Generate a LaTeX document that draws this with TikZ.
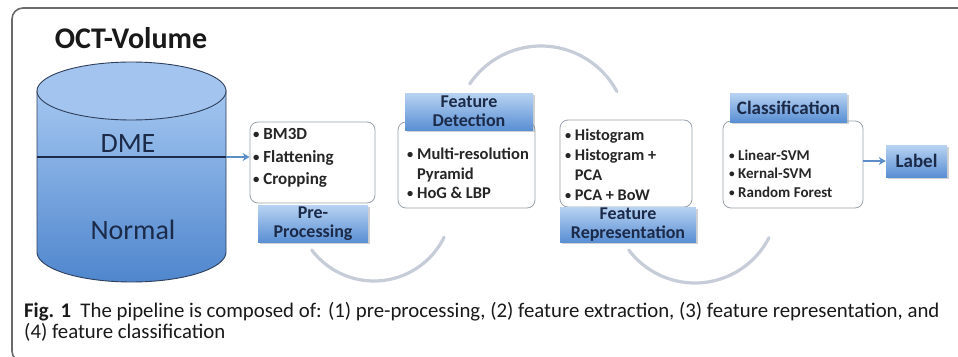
\documentclass[tikz,border=0pt]{standalone}
\usepackage{fontspec}
\setmainfont{Carlito}
\newfontfamily\capfont{Carlito}
\usetikzlibrary{shadows,arrows.meta}
\definecolor{navy}{HTML}{1B2A48}
\definecolor{framegray}{HTML}{6A6A6A}
\definecolor{arcgray}{HTML}{C6CDD8}
\definecolor{boxline}{HTML}{9AA2AC}
\definecolor{arrowblue}{HTML}{5D8EC8}
\definecolor{lblTop}{HTML}{B8D3F2}
\definecolor{lblBot}{HTML}{5A8FD4}
\definecolor{cylTop}{HTML}{A3C6F0}
\definecolor{cylBot}{HTML}{4F86CD}
\definecolor{cylLid}{HTML}{A3C4EE}
\definecolor{cylEdge}{HTML}{2E3F5C}
\newcommand{\mybul}{\raisebox{0.8pt}{\scalebox{0.75}{•}}~}
\newcommand{\mybulgap}{\hphantom{\mybul}}
\begin{document}
\begin{tikzpicture}[x=1pt,y=-1pt,
  whitebox/.style={draw=boxline, line width=0.8pt, fill=white, rounded corners=8pt, inner sep=0pt},
  lblbox/.style={draw=none, top color=lblTop, bottom color=lblBot, inner sep=0pt,
    drop shadow={shadow xshift=1.5pt, shadow yshift=-1.5pt, opacity=0.35},
    font=\fontsize{18}{19}\selectfont\bfseries, text=navy, align=center},
  bullets/.style={anchor=west, inner sep=0pt, align=left, text=black!85, font=\bfseries},
  arcline/.style={draw=arcgray, line width=3.2pt, line cap=round},
  flowarrow/.style={draw=arrowblue, line width=1.8pt, -{Stealth[length=7pt,width=8pt]}},
  cyltext/.style={font=\fontsize{28}{28}\selectfont, text=navy, inner sep=0pt, anchor=base}
]
\useasboundingbox (0,0) rectangle (958,356);
\fill[white] (0,0) rectangle (958,356);

% frame
\draw[framegray, line width=1.6pt, rounded corners=11pt] (970,8) -- (12,8) -- (12,362) -- (40,362);

% background arcs
\draw[arcline] plot[domain=26:143, samples=50] ({374+78*cos(\x)},{203+78*sin(\x)});
\draw[arcline] plot[domain=-146:-28, samples=50] ({541+86*cos(\x)},{132+86*sin(\x)});
\draw[arcline] plot[domain=27:143, samples=50] ({695+83*cos(\x)},{200+83*sin(\x)});

% cylinder
\node[font=\fontsize{30}{30}\selectfont\bfseries, text=black!90, inner sep=0pt] (octtitle) at (131,38) {OCT-Volume};
\shade[top color=cylTop, bottom color=cylBot, draw=cylEdge, line width=0.9pt]
  (37,91) -- plot[domain=180:0, samples=60] ({131.5+94.5*cos(\x)},{252+30*sin(\x)}) -- (226,91) -- cycle;
\draw[fill=cylLid, draw=cylEdge, line width=0.9pt]
  plot[domain=0:360, samples=90] ({131.5+94.5*cos(\x)},{91+29*sin(\x)}) -- cycle;
\coordinate (cylleft) at (37,157);
\coordinate (cylright) at (226,157);
\draw[navy, line width=2pt] (cylleft) -- (cylright);
\node[cyltext] (dme) at (128,152) {DME};
\node[cyltext] (normal) at (133,239) {Normal};

% white boxes
\node[whitebox, minimum width=125pt, minimum height=81pt] (prebox) at (312.5,162.5) {};
\node[whitebox, minimum width=137pt, minimum height=86pt] (fdbox) at (466.5,165) {};
\node[whitebox, minimum width=132pt, minimum height=87pt] (frbox) at (626,163.5) {};
\node[whitebox, minimum width=140pt, minimum height=87pt] (clsbox) at (793,164.5) {};

% bullet texts
\node[bullets, font=\fontsize{17}{22.5}\selectfont\bfseries] (pretext) at (253,158)
  {\mybul BM3D\\ \mybul Flattening\\ \mybul Cropping};
\node[bullets, font=\fontsize{16.5}{19.5}\selectfont\bfseries] (fdtext) at (407,173.5)
  {\mybul Multi-resolution\\ \mybulgap Pyramid\\ \mybul HoG \& LBP};
\node[bullets, font=\fontsize{16.3}{20}\selectfont\bfseries] (frtext) at (565,165)
  {\mybul Histogram\\ \mybul Histogram +\\ \mybulgap PCA\\ \mybul PCA + BoW};
\node[bullets, font=\fontsize{15}{18.5}\selectfont\bfseries] (clstext) at (729,173.5)
  {\mybul Linear-SVM\\ \mybul Kernal-SVM\\ \mybul Random Forest};

% label boxes
\node[lblbox, minimum width=110pt, minimum height=37pt] (prelbl) at (313,223.5) {Pre-\\Processing};
\node[lblbox, minimum width=128pt, minimum height=37pt] (fdlbl) at (469,111.5) {Feature\\Detection};
\node[lblbox, minimum width=136pt, minimum height=35pt] (frlbl) at (628,224.5) {Feature\\Representation};
\node[lblbox, minimum width=117pt, minimum height=29pt, font=\fontsize{19}{20}\selectfont\bfseries] (clslbl) at (788.5,107.5) {Classification};
\node[lblbox, minimum width=61pt, minimum height=32pt, font=\fontsize{19}{20}\selectfont\bfseries] (lbl) at (916.5,161) {Label};

% arrows
\draw[flowarrow] (cylright) -- (cylright -| prebox.west);
\draw[flowarrow] (clsbox.east |- lbl.west) -- (lbl.west);

% caption
\node[anchor=base west, inner sep=0pt, font=\capfont\fontsize{20.8}{21}\selectfont, text=black!90] (cap1) at (24,317)
  {\textbf{Fig. 1}\ \ The pipeline is composed of: (1) pre-processing, (2) feature extraction, (3) feature representation, and};
\node[anchor=base west, inner sep=0pt, font=\capfont\fontsize{20.8}{21}\selectfont, text=black!90] (cap2) at (24,338)
  {(4) feature classification};
\end{tikzpicture}
\end{document}
